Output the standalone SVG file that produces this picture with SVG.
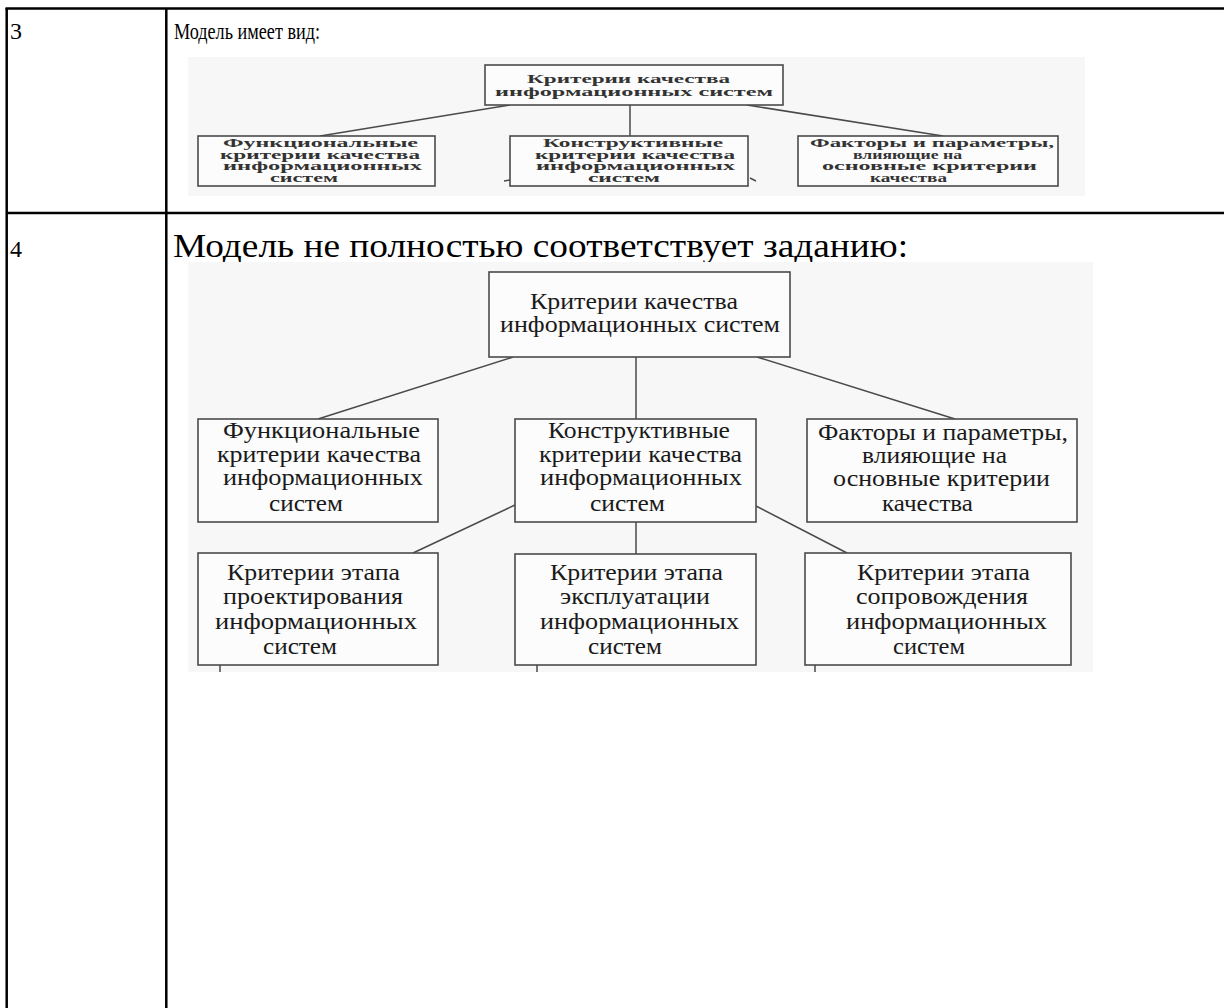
<svg xmlns="http://www.w3.org/2000/svg" width="1224" height="1008" viewBox="0 0 1224 1008">
<style>
.tbl{stroke:#000;stroke-width:2.5;fill:none}
.ttl{font-family:"Liberation Serif","Times New Roman",serif;font-size:24px;fill:#000}
.big{font-size:34px}
.bg{fill:#f7f7f7}
.box{fill:#fcfcfc;stroke:#4a4a4a;stroke-width:1.6}
.con{stroke:#4a4a4a;stroke-width:1.5;fill:none}
.sm{font-family:"Liberation Serif","Times New Roman",serif;font-size:12px;font-weight:bold;fill:#333;text-anchor:middle}
.lg{font-family:"Liberation Serif","Times New Roman",serif;font-size:23px;fill:#1a1a1a;text-anchor:middle}
</style>
<rect width="1224" height="1008" fill="#fff"/>
<g id="table">
<line class="tbl" x1="5.5" y1="8.5" x2="1224" y2="8.5"/>
<line class="tbl" x1="6.7" y1="8" x2="6.7" y2="1008"/>
<line class="tbl" x1="166.3" y1="8" x2="166.3" y2="1008"/>
<line class="tbl" x1="6" y1="213" x2="1224" y2="213"/>
<text class="ttl" x="10" y="39">3</text>
<text class="ttl" x="174" y="39" textLength="146" lengthAdjust="spacingAndGlyphs">Модель имеет вид:</text>
<text class="ttl" x="10" y="257">4</text>
<text class="ttl big" x="173" y="257" textLength="735" lengthAdjust="spacingAndGlyphs">Модель не полностью соответствует заданию:</text>
</g>

<g id="small-diagram">
<rect class="bg" x="188" y="57" width="897" height="139"/>
<g id="small-connectors">
<line class="con" x1="510" y1="105" x2="320" y2="136"/>
<line class="con" x1="630" y1="105" x2="630" y2="136"/>
<line class="con" x1="747" y1="105" x2="943" y2="136"/>
<line class="con" x1="504" y1="181" x2="510" y2="180"/>
<line class="con" x1="750" y1="178" x2="756" y2="181"/>
</g>
<g id="s-top">
<rect class="box" x="485" y="65" width="298" height="40"/>
<text class="sm" x="628.5" y="83" textLength="203" lengthAdjust="spacingAndGlyphs">Критерии качества</text>
<text class="sm" x="634" y="96" textLength="278" lengthAdjust="spacingAndGlyphs">информационных систем</text>
</g>
<g id="s-func">
<rect class="box" x="198" y="136" width="237" height="50"/>
<text class="sm" x="320.5" y="147" textLength="195" lengthAdjust="spacingAndGlyphs">Функциональные</text>
<text class="sm" x="320" y="158.5" textLength="200" lengthAdjust="spacingAndGlyphs">критерии качества</text>
<text class="sm" x="322.5" y="170" textLength="199" lengthAdjust="spacingAndGlyphs">информационных</text>
<text class="sm" x="304" y="181.5" textLength="68" lengthAdjust="spacingAndGlyphs">систем</text>
</g>
<g id="s-constr">
<rect class="box" x="510" y="136" width="238" height="50"/>
<text class="sm" x="633" y="147" textLength="180" lengthAdjust="spacingAndGlyphs">Конструктивные</text>
<text class="sm" x="635" y="158.5" textLength="200" lengthAdjust="spacingAndGlyphs">критерии качества</text>
<text class="sm" x="635.5" y="170" textLength="199" lengthAdjust="spacingAndGlyphs">информационных</text>
<text class="sm" x="624" y="181.5" textLength="72" lengthAdjust="spacingAndGlyphs">систем</text>
</g>
<g id="s-factors">
<rect class="box" x="798" y="136" width="260" height="50"/>
<text class="sm" x="932" y="147" textLength="244" lengthAdjust="spacingAndGlyphs">Факторы и параметры,</text>
<text class="sm" x="907.5" y="158.5" textLength="109" lengthAdjust="spacingAndGlyphs">влияющие на</text>
<text class="sm" x="929.5" y="170" textLength="215" lengthAdjust="spacingAndGlyphs">основные критерии</text>
<text class="sm" x="908.5" y="181.5" textLength="77" lengthAdjust="spacingAndGlyphs">качества</text>
</g>
</g>

<g id="large-diagram">
<rect class="bg" x="188" y="262" width="905" height="410"/>
<g id="large-connectors">
<line class="con" x1="513" y1="357" x2="318" y2="419"/>
<line class="con" x1="636" y1="357" x2="636" y2="419"/>
<line class="con" x1="757" y1="357" x2="955" y2="419"/>
<line class="con" x1="515" y1="505" x2="413" y2="553"/>
<line class="con" x1="636" y1="522" x2="636" y2="554"/>
<line class="con" x1="756" y1="506" x2="847" y2="553"/>
<line class="con" x1="220" y1="665" x2="220" y2="672"/>
<line class="con" x1="537" y1="665" x2="537" y2="672"/>
<line class="con" x1="815" y1="665" x2="815" y2="672"/>
</g>
<g id="l-top">
<rect class="box" x="489" y="272" width="301" height="85"/>
<text class="lg" x="634" y="309" textLength="208" lengthAdjust="spacingAndGlyphs">Критерии качества</text>
<text class="lg" x="640" y="332" textLength="280" lengthAdjust="spacingAndGlyphs">информационных систем</text>
</g>
<g id="l-func">
<rect class="box" x="198" y="419" width="240" height="103"/>
<text class="lg" x="321.5" y="438" textLength="197" lengthAdjust="spacingAndGlyphs">Функциональные</text>
<text class="lg" x="319" y="462" textLength="204" lengthAdjust="spacingAndGlyphs">критерии качества</text>
<text class="lg" x="323" y="485" textLength="200" lengthAdjust="spacingAndGlyphs">информационных</text>
<text class="lg" x="306" y="511" textLength="74" lengthAdjust="spacingAndGlyphs">систем</text>
</g>
<g id="l-constr">
<rect class="box" x="515" y="419" width="241" height="103"/>
<text class="lg" x="639" y="438" textLength="182" lengthAdjust="spacingAndGlyphs">Конструктивные</text>
<text class="lg" x="640.5" y="462" textLength="203" lengthAdjust="spacingAndGlyphs">критерии качества</text>
<text class="lg" x="641" y="485" textLength="202" lengthAdjust="spacingAndGlyphs">информационных</text>
<text class="lg" x="627.5" y="511" textLength="75" lengthAdjust="spacingAndGlyphs">систем</text>
</g>
<g id="l-factors">
<rect class="box" x="807" y="419" width="270" height="103"/>
<text class="lg" x="943" y="440" textLength="250" lengthAdjust="spacingAndGlyphs">Факторы и параметры,</text>
<text class="lg" x="934.5" y="463" textLength="145" lengthAdjust="spacingAndGlyphs">влияющие на</text>
<text class="lg" x="941.5" y="486" textLength="217" lengthAdjust="spacingAndGlyphs">основные критерии</text>
<text class="lg" x="927.5" y="511" textLength="91" lengthAdjust="spacingAndGlyphs">качества</text>
</g>
<g id="l-design">
<rect class="box" x="198" y="553" width="240" height="112"/>
<text class="lg" x="313.5" y="580" textLength="173" lengthAdjust="spacingAndGlyphs">Критерии этапа</text>
<text class="lg" x="313" y="604" textLength="180" lengthAdjust="spacingAndGlyphs">проектирования</text>
<text class="lg" x="316" y="629" textLength="202" lengthAdjust="spacingAndGlyphs">информационных</text>
<text class="lg" x="300" y="654" textLength="74" lengthAdjust="spacingAndGlyphs">систем</text>
</g>
<g id="l-operation">
<rect class="box" x="515" y="554" width="241" height="111"/>
<text class="lg" x="636.5" y="580" textLength="173" lengthAdjust="spacingAndGlyphs">Критерии этапа</text>
<text class="lg" x="635" y="604" textLength="150" lengthAdjust="spacingAndGlyphs">эксплуатации</text>
<text class="lg" x="639.5" y="629" textLength="199" lengthAdjust="spacingAndGlyphs">информационных</text>
<text class="lg" x="625" y="654" textLength="74" lengthAdjust="spacingAndGlyphs">систем</text>
</g>
<g id="l-support">
<rect class="box" x="805" y="553" width="266" height="112"/>
<text class="lg" x="943.5" y="580" textLength="173" lengthAdjust="spacingAndGlyphs">Критерии этапа</text>
<text class="lg" x="942" y="604" textLength="172" lengthAdjust="spacingAndGlyphs">сопровождения</text>
<text class="lg" x="946.5" y="629" textLength="201" lengthAdjust="spacingAndGlyphs">информационных</text>
<text class="lg" x="929" y="654" textLength="72" lengthAdjust="spacingAndGlyphs">систем</text>
</g>
</g>
</svg>
